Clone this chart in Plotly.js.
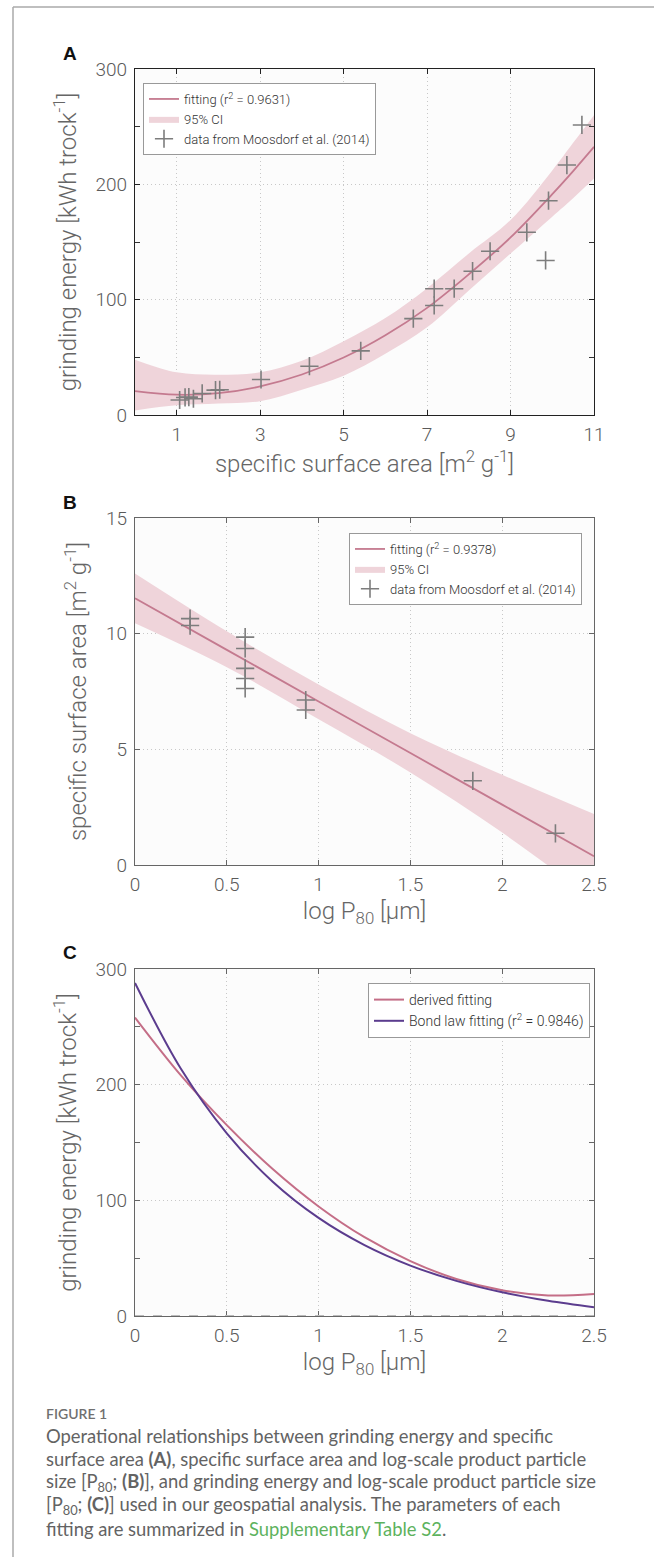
<!DOCTYPE html>
<html><head><meta charset="utf-8">
<script src="https://cdn.plot.ly/plotly-3.0.1.min.js"></script>
<style>html,body{margin:0;padding:0;background:#fff}#chart{width:654px;height:1557px}</style>
</head><body><div id="chart"></div>
<script>
// ---------- Panel A: grinding energy vs specific surface area ----------
const aCurveX = [0, 1, 2, 3, 4, 5, 6, 7, 8, 9, 10, 10.5, 11];
const aFit    = [20.7, 17.6, 18.9, 24.8, 35.1, 49.8, 69.1, 92.9, 122, 154, 191.5, 211.5, 232.5];
const aUpper  = [48, 37, 35, 37, 47, 64, 84, 110, 140, 169, 212, 236, 260];
const aLower  = [4, 8.5, 10, 12, 22, 34, 53, 76, 108, 140, 172, 188, 205];
const aDataX  = [1.07, 1.20, 1.29, 1.40, 1.61, 1.93, 2.03, 3.02, 4.18, 5.41, 6.67, 7.17, 7.17, 7.65, 8.09, 8.51, 9.39, 9.84, 9.91, 10.35, 10.71];
const aDataY  = [13, 15.2, 15.5, 14.1, 18.7, 21.6, 21.9, 30.8, 42.3, 55.6, 83.6, 95, 109.5, 109.5, 124.7, 142, 158.4, 134, 185.8, 216.7, 251.5];

// ---------- Panel B: specific surface area vs log P80 ----------
const bCurveX = [0, 0.5, 1, 1.5, 2, 2.5];
const bFit    = [11.53, 9.30, 7.07, 4.84, 2.61, 0.38];
const bUpper  = [12.6, 10.1, 7.8, 5.7, 3.9, 2.2];
const bLower  = [10.45, 8.55, 6.3, 4.0, 1.4, -1.5];
const bDataX  = [0.30, 0.30, 0.60, 0.60, 0.60, 0.60, 0.60, 0.93, 0.93, 1.84, 2.29];
const bDataY  = [10.65, 10.35, 9.85, 9.36, 8.5, 8.06, 7.63, 7.13, 6.7, 3.64, 1.37];

// ---------- Panel C: grinding energy vs log P80 ----------
const cX       = [0, 0.25, 0.5, 0.75, 1, 1.25, 1.5, 1.75, 2, 2.25, 2.5];
const cDerived = [258, 208, 165, 127, 94.7, 68.1, 47.5, 32, 22.2, 17.8, 19];
const cBond    = [288, 213.7, 157.9, 116.1, 84.8, 61.3, 43.6, 30.4, 20.5, 13.1, 7.5];

// ---------- text ----------
const labels = {
  aLegend: ['fitting (r<sup>2</sup> = 0.9631)', '95% CI', 'data from Moosdorf et al. (2014)'],
  bLegend: ['fitting (r<sup>2</sup> = 0.9378)', '95% CI', 'data from Moosdorf et al. (2014)'],
  cLegend: ['derived fitting', 'Bond law fitting (r<sup>2</sup> = 0.9846)'],
  energy: 'grinding energy [kWh trock<sup>-1</sup>]',
  ssa: 'specific surface area [m<sup>2</sup> g<sup>-1</sup>]',
  logp: 'log P<sub>80</sub> [µm]'
};
const captionLines = [
  'Operational relationships between grinding energy and specific',
  'surface area <b>(A)</b>, specific surface area and log-scale product particle',
  'size [P<sub>80</sub>; <b>(B)</b>], and grinding energy and log-scale product particle size',
  '[P<sub>80</sub>; <b>(C)</b>] used in our geospatial analysis. The parameters of each',
  'fitting are summarized in <span style="color:#5db25d">Supplementary Table S2</span>.'
];

const W = 654, H = 1557;
const px = p => p / W;
const py = p => 1 - p / H;

const FIT = '#c47a8f', BAND = '#efd4da', PT = '#7d7d7d';
const DER = '#c46e87', BOND = '#5b3c8e';
const FONT = 'Roboto, "Liberation Sans", sans-serif';

function bandTraces(x, lo, up, xa, ya, lg) {
  return [
    {x: x, y: lo, mode: 'lines', line: {width: 0, shape: 'spline', color: BAND}, showlegend: false, hoverinfo: 'skip', xaxis: xa, yaxis: ya, legend: lg},
    {x: x, y: up, mode: 'lines', fill: 'tonexty', fillcolor: BAND, line: {width: 0, shape: 'spline', color: BAND}, name: '95% CI', legendrank: 2, hoverinfo: 'skip', xaxis: xa, yaxis: ya, legend: lg}
  ];
}
function fitTrace(x, y, name, xa, ya, lg) {
  return {x: x, y: y, mode: 'lines', line: {color: FIT, width: 1.8, shape: 'spline'}, name: name, legendrank: 1, xaxis: xa, yaxis: ya, legend: lg};
}
function dataTrace(x, y, name, xa, ya, lg) {
  return {x: x, y: y, mode: 'markers', marker: {symbol: 'cross-thin', size: 13, color: PT, line: {color: PT, width: 1.6}}, name: name, legendrank: 3, xaxis: xa, yaxis: ya, legend: lg};
}

const traces = [
  ...bandTraces(aCurveX, aLower, aUpper, 'x', 'y', 'legend'),
  fitTrace(aCurveX, aFit, labels.aLegend[0], 'x', 'y', 'legend'),
  dataTrace(aDataX, aDataY, labels.aLegend[2], 'x', 'y', 'legend'),
  ...bandTraces(bCurveX, bLower, bUpper, 'x2', 'y2', 'legend2'),
  fitTrace(bCurveX, bFit, labels.bLegend[0], 'x2', 'y2', 'legend2'),
  dataTrace(bDataX, bDataY, labels.bLegend[2], 'x2', 'y2', 'legend2'),
  {x: cX, y: cDerived, mode: 'lines', line: {color: DER, width: 2, shape: 'spline'}, name: labels.cLegend[0], legendrank: 1, xaxis: 'x3', yaxis: 'y3', legend: 'legend3'},
  {x: cX, y: cBond, mode: 'lines', line: {color: BOND, width: 2, shape: 'spline'}, name: labels.cLegend[1], legendrank: 2, xaxis: 'x3', yaxis: 'y3', legend: 'legend3'}
];

function axis(o) {
  const dark = o.dark ? '#222' : '#666';
  const base = {
    showline: true, mirror: 'ticks', linecolor: dark, linewidth: 1.2,
    ticks: 'inside', ticklen: 5, tickwidth: 1, tickcolor: dark,
    showgrid: true, gridcolor: '#c8c8c8', griddash: '1px,3px', gridwidth: 1,
    zeroline: false, automargin: false, fixedrange: true,
    tickfont: {family: FONT, size: 19, color: '#5a5a5a', weight: 300},
    title: {text: o.title, standoff: o.standoff, font: {family: FONT, size: 24, color: '#666', weight: 300}}
  };
  delete o.dark; delete o.title; delete o.standoff;
  return Object.assign(base, o);
}
const xDom = [px(135), px(594)];
const minorY = {dtick: 50, tick0: 0, ticks: 'inside', ticklen: 5, tickcolor: '#333', showgrid: false};

function legendBox(x, y, fs) {
  return {x: px(x), y: py(y), xanchor: 'left', yanchor: 'top', bgcolor: '#ffffff', bordercolor: '#999', borderwidth: 1,
          traceorder: 'normal', font: {family: FONT, size: fs, color: '#333', weight: 300}, itemwidth: 30, tracegroupgap: 0};
}

const annotations = [
  {text: '<b>A</b>', x: px(70), y: py(53), xref: 'paper', yref: 'paper', showarrow: false, xanchor: 'center', yanchor: 'middle', font: {family: '"Liberation Sans", Arial, sans-serif', size: 19, color: '#111'}},
  {text: '<b>B</b>', x: px(70), y: py(503), xref: 'paper', yref: 'paper', showarrow: false, xanchor: 'center', yanchor: 'middle', font: {family: '"Liberation Sans", Arial, sans-serif', size: 19, color: '#111'}},
  {text: '<b>C</b>', x: px(70), y: py(952), xref: 'paper', yref: 'paper', showarrow: false, xanchor: 'center', yanchor: 'middle', font: {family: '"Liberation Sans", Arial, sans-serif', size: 19, color: '#111'}},
  {text: 'FIGURE 1', x: px(44), y: py(1413), xref: 'paper', yref: 'paper', showarrow: false, xanchor: 'left', yanchor: 'middle', font: {family: 'Lato, "Open Sans", sans-serif', size: 14, color: '#707070', weight: 600}}
];
captionLines.forEach((t, i) => annotations.push({
  text: t, x: px(44), y: py(1436 + i * 23.2), xref: 'paper', yref: 'paper', showarrow: false, xanchor: 'left', yanchor: 'middle', align: 'left',
  font: {family: 'Lato, "Open Sans", sans-serif', size: 18.4, color: '#636363', weight: 400}
}));

const layout = {
  width: W, height: H, margin: {l: 0, r: 0, t: 0, b: 0},
  paper_bgcolor: '#ffffff', plot_bgcolor: '#fcfcfc',
  xaxis: axis({dark: true, domain: xDom, anchor: 'y', range: [0, 11], tick0: 1, dtick: 2, title: labels.ssa, standoff: 7, ticklabelstandoff: 2}),
  yaxis: axis({dark: true, domain: [py(415), py(69)], anchor: 'x', range: [0, 300], dtick: 100, minor: minorY, title: labels.energy, standoff: 12, ticklabelstandoff: 3}),
  xaxis2: axis({domain: xDom, anchor: 'y2', range: [0, 2.5], dtick: 0.5, title: labels.logp, standoff: 7, ticklabelstandoff: 2}),
  yaxis2: axis({domain: [py(865), py(518)], anchor: 'x2', range: [0, 15], dtick: 5, title: labels.ssa, standoff: 12, ticklabelstandoff: 3}),
  xaxis3: axis({domain: xDom, anchor: 'y3', range: [0, 2.5], dtick: 0.5, title: labels.logp, standoff: 7, ticklabelstandoff: 2}),
  yaxis3: axis({domain: [py(1316), py(969)], anchor: 'x3', range: [0, 300], dtick: 100, minor: Object.assign({}, minorY, {tickcolor: '#666'}), title: labels.energy, standoff: 12, ticklabelstandoff: 3}),
  legend: legendBox(143, 83, 13),
  legend2: legendBox(349, 533, 13),
  legend3: legendBox(368, 983, 14),
  showlegend: true,
  annotations: annotations,
  shapes: [
    {type: 'line', xref: 'paper', yref: 'paper', x0: px(13), x1: 1, y0: py(7), y1: py(7), line: {color: '#aaa', width: 1.5}},
    {type: 'line', xref: 'paper', yref: 'paper', x0: px(13), x1: px(13), y0: py(7), y1: 0, line: {color: '#aaa', width: 1.5}},
    {type: 'line', xref: 'x3 domain', yref: 'y3', x0: 0, x1: 1, y0: 0, y1: 0, layer: 'above', line: {color: '#bbb', width: 2, dash: 'dash'}}
  ]
};

Plotly.newPlot('chart', traces, layout, {displayModeBar: false, staticPlot: true});
</script>
</body></html>
